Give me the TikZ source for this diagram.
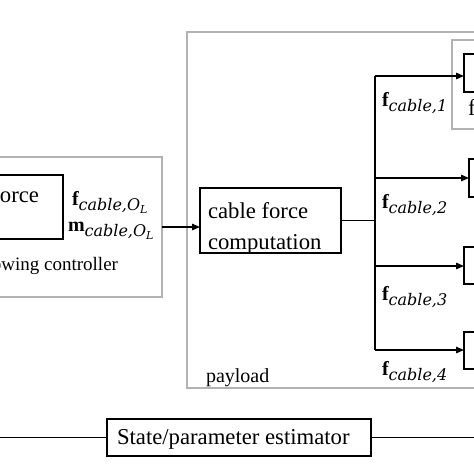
\documentclass[tikz,border=0pt]{standalone}
\usepackage{fontspec}
\setmainfont{Liberation Serif}
\newfontfamily\subfont{DejaVu Serif}
\usetikzlibrary{arrows.meta}
\newcommand\sz[1]{\fontsize{#1}{#1}\selectfont}
\newcommand\cablelab[2]{{\sz{20}\bfseries #1}\raisebox{-5pt}{\sz{16}\subfont\itshape cable,#2}}
\newcommand\OL{O\raisebox{-3.5pt}{\sz{11}L}}
\begin{document}
\begin{tikzpicture}[x=1pt,y=-1pt,
 box/.style={draw=black, line width=1.4pt, inner sep=0pt, outer sep=0pt},
 gbox/.style={draw=black!30, line width=1.1pt, inner sep=0pt, outer sep=0pt},
 txt/.style={inner sep=0pt, outer sep=0pt},
 line/.style={line width=1.4pt},
 arr/.style={line width=1.4pt, -{Triangle[length=8pt,width=6.5pt]}}]
\useasboundingbox (0,0) rectangle (474,474);
\fill[white] (0,0) rectangle (474,474);
\clip (0,0) rectangle (474,474);

% controller
\node[gbox, minimum width=172pt, minimum height=140pt] (ctrl) at (76,227) {};
\node[box, minimum width=73pt, minimum height=64pt] (forcebox) at (26.5,207) {};
\node[txt, anchor=base east, font=\sz{22.7}] (forcetxt) at (39,202) {force};
\node[txt, anchor=base west] (fO) at (72,205) {\cablelab{f}{\OL}};
\node[txt, anchor=base west] (mO) at (68,231) {\cablelab{m}{\OL}};
\node[txt, anchor=base east, font=\sz{19}] (ctrltxt) at (118,270) {following controller};

% payload
\node[gbox, minimum width=308pt, minimum height=356pt] (payload) at (341,210) {};
\node[txt, anchor=base west, font=\sz{20}] (pl) at (206,382) {payload};
\node[box, minimum width=141pt, minimum height=65pt] (cfc) at (270.5,220.5) {};
\node[txt, anchor=base west, font=\sz{22.7}] (cfc1) at (208,218) {cable force};
\node[txt, anchor=base west, font=\sz{22.7}] (cfc2) at (208,249) {computation};

% right boxes
\node[gbox, minimum width=43pt, minimum height=89pt] (grp1) at (473.5,84.5) {};
\node[box, minimum width=31pt, minimum height=38pt] (b1) at (479.5,73) {};
\node[txt, anchor=base west, font=\sz{22.7}] (ftxt) at (468,115) {f};
\node[box, minimum width=26pt, minimum height=38pt] (b2) at (482,178) {};
\node[box, minimum width=31pt, minimum height=37pt] (b3) at (479.5,265.5) {};
\node[box, minimum width=31pt, minimum height=37pt] (b4) at (479.5,350.5) {};

% branch coordinates
\coordinate (j) at (375,220.5);
\coordinate (j1) at (375,76);
\coordinate (j2) at (375,178);
\coordinate (j3) at (375,266);
\coordinate (j4) at (375,350);

\draw[arr] (ctrl.east) -- (cfc.west |- ctrl.east);
\draw[line] (cfc.east) -- (j);
\draw[line] (j1) -- (j4);
\draw[arr] (j1) -- (b1.west |- j1);
\draw[arr] (j2) -- (b2.west |- j2);
\draw[arr] (j3) -- (b3.west |- j3);
\draw[arr] (j4) -- (b4.west |- j4);

\node[txt, anchor=base west] (l1) at (382,106) {\cablelab{f}{1}};
\node[txt, anchor=base west] (l2) at (382,208) {\cablelab{f}{2}};
\node[txt, anchor=base west] (l3) at (382,300) {\cablelab{f}{3}};
\node[txt, anchor=base west] (l4) at (382,375) {\cablelab{f}{4}};

% estimator
\node[box, minimum width=264pt, minimum height=37pt] (est) at (239,437.5) {};
\node[txt, anchor=base west, font=\sz{22.7}] (esttxt) at (117,444) {State/parameter estimator};
\coordinate (eL) at (-5,437.5);
\coordinate (eR) at (480,437.5);
\draw[line] (eL) -- (est.west);
\draw[line] (est.east) -- (eR);
\end{tikzpicture}
\end{document}
